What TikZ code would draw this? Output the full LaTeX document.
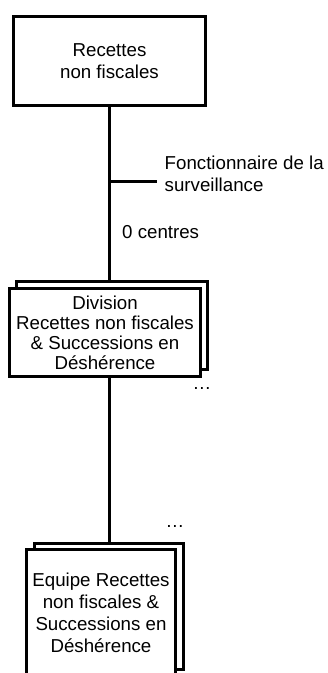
\documentclass[tikz,border=0pt]{standalone}
\usepackage{fontspec}
\setmainfont{Liberation Sans}
\usetikzlibrary{positioning,shadows,backgrounds,calc}

\begin{document}
\begin{tikzpicture}[
  x=1pt, y=-1pt,
  every node/.style={font=\fontsize{18.7}{22}\selectfont, inner sep=0pt},
  box/.style={
    rectangle, draw=black, line width=3pt, fill=white, align=center,
  },
  unit/.style ={box, minimum width=192pt, minimum height=89pt},
  stack/.style n args={2}{box,
    copy shadow={shadow xshift=#1, shadow yshift=#2, draw=black, fill=white, line width=3pt}},
  conn/.style ={line width=3pt, black},
  tag/.style  ={anchor=west, align=left},
]

% ── Frame (fixed page size) ──
\path[use as bounding box, clip] (0,0) rectangle (328,673);

% ── Row Y-coordinates ──
\def\yTop{61}
\def\yDiv{332.5}
\def\yEqp{612.5}

% ── Boxes ──
\node[unit] (rnf) at (109.5, \yTop) {Recettes\\non fiscales};
\node[stack={7pt}{7pt}, minimum width=191pt, minimum height=88pt,
      font=\fontsize{18.7}{20}\selectfont] (div) at (105, \yDiv)
  {Division\\Recettes non fiscales\\\& Successions en\\Déshérence};
\node[stack={8pt}{6pt}, minimum width=149pt, minimum height=126pt] (eqp) at (101, \yEqp)
  {Equipe Recettes\\non fiscales \&\\Successions en\\Déshérence};

% ── Labels ──
\node[tag] (fonc) at (164.5, 174) {Fonctionnaire de la\\surveillance};
\node[tag] (ctr)  at (122, 232)   {0 centres};
\node[anchor=base] (more1) at (202, 389) {…};
\node[anchor=base] (more2) at (175, 527) {…};

% ── Connectors (behind the boxes) ──
\coordinate (branch) at (rnf.south |- 0,181);
\coordinate[right=47.5pt of branch] (brend);
\begin{scope}[on background layer]
  \draw[conn] (rnf.south) -- (rnf.south |- div.north);
  \draw[conn] (branch) -- (brend);
  \draw[conn] (div.south -| rnf.south) -- (rnf.south |- eqp.north);
\end{scope}

\end{tikzpicture}
\end{document}
